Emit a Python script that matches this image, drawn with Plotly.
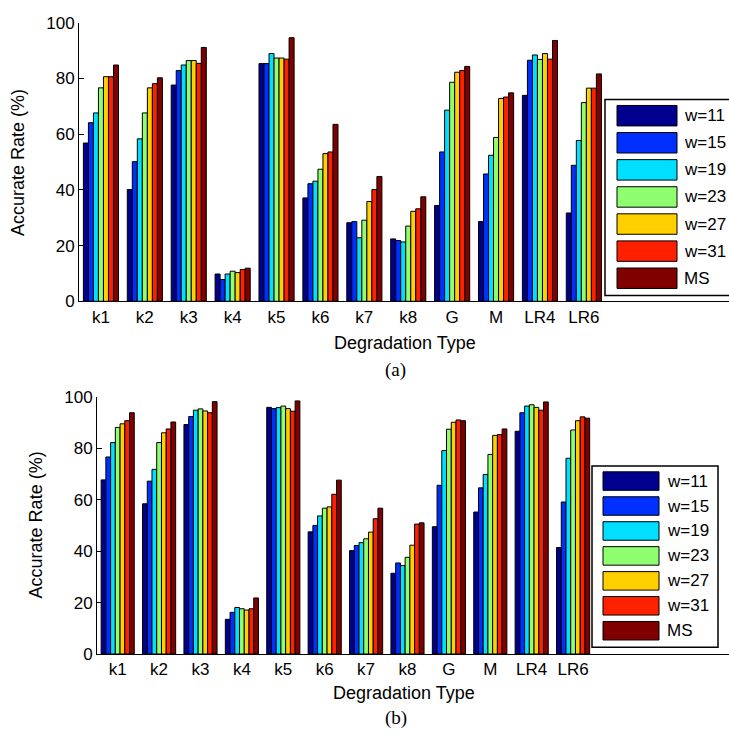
import plotly.graph_objects as go

categories = ["k1", "k2", "k3", "k4", "k5", "k6", "k7", "k8", "G", "M", "LR4", "LR6"]
series_names = ["w=11", "w=15", "w=19", "w=23", "w=27", "w=31", "MS"]
colors = ["#00008F", "#0030FF", "#00DFFF", "#8FFF70", "#FFCF00", "#FF2000", "#800000"]

# Chart (a): rows = series, columns = categories
a_w11 = [56.8, 40.1, 77.6, 9.8, 85.3, 37.1, 28.2, 22.4, 34.4, 28.6, 73.9, 31.7]
a_w15 = [64.1, 50.1, 82.8, 7.8, 85.3, 42.2, 28.6, 21.8, 53.6, 45.7, 86.5, 48.8]
a_w19 = [67.6, 58.3, 84.8, 9.8, 88.9, 43.1, 22.8, 21.3, 68.6, 52.4, 88.4, 57.7]
a_w23 = [76.6, 67.6, 86.4, 10.8, 87.3, 47.4, 29.1, 27.0, 78.6, 58.8, 86.8, 71.3]
a_w27 = [80.6, 76.6, 86.4, 10.3, 87.3, 53.0, 35.8, 32.3, 82.2, 72.8, 88.9, 76.5]
a_w31 = [80.6, 78.1, 85.4, 11.4, 86.9, 53.6, 40.1, 33.2, 82.8, 73.3, 86.9, 76.5]
a_ms = [84.8, 80.2, 91.1, 11.9, 94.6, 63.5, 44.8, 37.5, 84.3, 74.8, 93.6, 81.6]

# Chart (b)
b_w11 = [67.7, 58.4, 89.2, 13.5, 95.9, 47.5, 40.2, 31.4, 49.5, 55.2, 86.6, 41.4]
b_w15 = [76.6, 67.2, 92.3, 16.2, 95.4, 50.0, 42.2, 35.4, 65.6, 64.6, 93.8, 59.1]
b_w19 = [82.2, 71.8, 94.8, 18.1, 95.8, 53.7, 43.3, 34.4, 79.1, 69.8, 96.4, 76.1]
b_w23 = [88.1, 82.2, 95.3, 17.6, 96.4, 56.7, 44.8, 37.6, 87.4, 77.6, 96.9, 87.1]
b_w27 = [89.5, 86.0, 94.5, 17.1, 95.4, 57.2, 47.4, 42.3, 90.1, 85.0, 95.9, 90.7]
b_w31 = [90.7, 87.5, 93.8, 17.6, 94.4, 62.1, 52.6, 50.5, 91.0, 85.3, 94.8, 92.2]
b_ms = [93.8, 90.2, 98.1, 21.8, 98.4, 67.6, 56.7, 51.0, 90.7, 87.5, 98.0, 91.7]

a_data = [a_w11, a_w15, a_w19, a_w23, a_w27, a_w31, a_ms]
b_data = [b_w11, b_w15, b_w19, b_w23, b_w27, b_w31, b_ms]
y_ticks = [0, 20, 40, 60, 80, 100]

W, H = 729, 741
def px(x):
    return x / W
def py(y):
    return 1 - y / H

xpos = list(range(1, len(categories) + 1))
fig = go.Figure()
for vals, name, col in zip(a_data, series_names, colors):
    fig.add_trace(go.Bar(x=xpos, y=vals, name=name, marker=dict(color=col, line=dict(color="black", width=1)),
                         xaxis="x", yaxis="y", showlegend=False, offsetgroup=name))
for vals, name, col in zip(b_data, series_names, colors):
    fig.add_trace(go.Bar(x=xpos, y=vals, name=name, marker=dict(color=col, line=dict(color="black", width=1)),
                         xaxis="x2", yaxis="y2", showlegend=False, offsetgroup=name))

FAM = "Liberation Sans, Arial, sans-serif"
font = dict(family=FAM, size=17, color="black")
axis_common = dict(showline=True, linecolor="black", linewidth=1, showgrid=False, zeroline=False,
                   tickfont=font, mirror=False)

fig.update_layout(
    width=W, height=H, margin=dict(l=0, r=0, t=0, b=0),
    paper_bgcolor="white", plot_bgcolor="white",
    barmode="group", bargap=0.2, bargroupgap=0,
    font=font,
    xaxis=dict(domain=[px(79), 1], range=[0.5, 0.5 + (W - 79) / 43.9], tickvals=xpos, ticktext=categories,
               ticks="", anchor="y", **axis_common),
    yaxis=dict(domain=[py(300), py(14)], range=[0, 100], tickvals=y_ticks, ticks="inside", ticklen=5,
               tickcolor="black", anchor="x", **axis_common),
    xaxis2=dict(domain=[px(97), 1], range=[0.5, 0.5 + (W - 97) / 41.4], tickvals=xpos, ticktext=categories,
                ticks="", anchor="y2", **axis_common),
    yaxis2=dict(domain=[py(662), py(398)], range=[0, 100], tickvals=y_ticks, ticks="inside", ticklen=5,
                tickcolor="black", anchor="x2", **axis_common),
)

shapes = []
annotations = []

def add_legend(box, sw_x0, sw_x1, row0_center, spacing, sw_h, text_x):
    shapes.append(dict(type="rect", xref="paper", yref="paper", x0=px(box[0]), x1=px(box[1]),
                       y0=py(box[3]), y1=py(box[2]), line=dict(color="black", width=1.5), fillcolor="white"))
    for i, (name, col) in enumerate(zip(series_names, colors)):
        cy = row0_center + spacing * i
        shapes.append(dict(type="rect", xref="paper", yref="paper", x0=px(sw_x0), x1=px(sw_x1),
                           y0=py(cy + sw_h / 2), y1=py(cy - sw_h / 2), line=dict(color="black", width=1),
                           fillcolor=col))
        annotations.append(dict(xref="paper", yref="paper", x=px(text_x), y=py(cy), text=name, showarrow=False,
                                xanchor="left", yanchor="middle", font=dict(family=FAM, size=17, color="black")))

add_legend((605, 780, 93, 294), 617, 677, 109.5, 27.8, 21, 682)
add_legend((592, 718, 469, 655), 603, 659, 484.5, 25.6, 19, 665)

title_font = dict(family=FAM, size=18, color="black")
serif = dict(family="Liberation Serif, Times New Roman, serif", size=19, color="black")
annotations += [
    dict(xref="paper", yref="paper", x=px(405), y=py(343), text="Degradation Type", showarrow=False,
         xanchor="center", yanchor="middle", font=title_font),
    dict(xref="paper", yref="paper", x=px(403.5), y=py(702), text="Degradation Type", showarrow=False,
         xanchor="center", yanchor="middle", font=title_font),
    dict(xref="paper", yref="paper", x=px(18), y=py(158), text="Accurate Rate (%)", showarrow=False,
         textangle=-90, xanchor="center", yanchor="middle", font=title_font),
    dict(xref="paper", yref="paper", x=px(36), y=py(530), text="Accurate Rate (%)", showarrow=False,
         textangle=-90, xanchor="center", yanchor="middle", font=title_font),
    dict(xref="paper", yref="paper", x=px(395), y=py(371), text="(a)", showarrow=False,
         xanchor="center", yanchor="middle", font=serif),
    dict(xref="paper", yref="paper", x=px(396), y=py(728), text="(b)", showarrow=False,
         xanchor="center", yanchor="middle", font=serif),
]

fig.update_layout(shapes=shapes, annotations=annotations)
fig.write_html("out.html", config={"displayModeBar": False},
               post_script="document.body.style.margin='0';document.body.style.overflow='hidden';")
